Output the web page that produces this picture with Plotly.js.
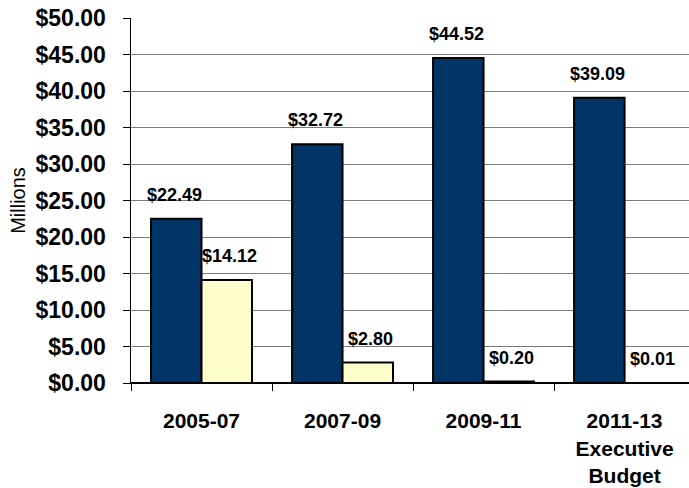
<!DOCTYPE html>
<html>
<head>
<meta charset="utf-8">
<script src="https://cdn.plot.ly/plotly-3.0.1.min.js"></script>
<style>html,body{margin:0;padding:0;background:#fff;}#chart{width:689px;height:488px;}</style>
</head>
<body>
<div id="chart"></div>
<script>
const categories = ["2005-07", "2007-09", "2009-11", "2011-13<br>Executive<br>Budget"];
const seriesA = [22.49, 32.72, 44.52, 39.09];
const seriesB = [14.12, 2.80, 0.20, 0.01];
const yTickVals = [0, 5, 10, 15, 20, 25, 30, 35, 40, 45, 50];
const yTickText = yTickVals.map(v => "$" + v.toFixed(2));

const fmt = v => "$" + v.toFixed(2);
const FONT = "Liberation Sans, Arial, sans-serif";

const traces = [
  {type: "bar", x: categories, y: seriesA, name: "A",
   marker: {color: "#003366", line: {color: "#000000", width: 2}}, hoverinfo: "none"},
  {type: "bar", x: categories, y: seriesB, name: "B",
   marker: {color: "#FFFFCC", line: {color: "#000000", width: 2}}, hoverinfo: "none"}
];

const annotations = [];
categories.forEach((c, i) => {
  annotations.push({x: c, y: seriesA[i], xref: "x", yref: "y", text: "<b>" + fmt(seriesA[i]) + "</b>",
    showarrow: false, yanchor: "bottom", xshift: -27, yshift: 12,
    font: {family: FONT, size: 18, color: "#000"}});
  annotations.push({x: c, y: seriesB[i], xref: "x", yref: "y", text: "<b>" + fmt(seriesB[i]) + "</b>",
    showarrow: false, yanchor: "bottom", xshift: 28, yshift: 12,
    font: {family: FONT, size: 18, color: "#000"}});
});

const layout = {
  width: 689, height: 488,
  margin: {l: 131, r: 0, t: 18, b: 105, pad: 0},
  paper_bgcolor: "#fff", plot_bgcolor: "#fff",
  showlegend: false,
  barmode: "group", bargap: 0.284, bargroupgap: 0,
  font: {family: FONT, color: "#000"},
  xaxis: {
    type: "category", range: [-0.5, 3.457],
    showline: true, linecolor: "#000", linewidth: 1,
    ticks: "outside", tickson: "boundaries", ticklen: 7, tickcolor: "#000",
    showgrid: false, zeroline: false,
    tickfont: {size: 21, family: FONT, weight: "bold", color: "#000"},
    ticklabelstandoff: 19
  },
  yaxis: {
    range: [0, 50], tickmode: "array", tickvals: yTickVals, ticktext: yTickText,
    showline: true, linecolor: "#000", linewidth: 1.5,
    ticks: "outside", ticklen: 7, tickcolor: "#000",
    showgrid: true, gridcolor: "#7a7a7a", gridwidth: 1,
    zeroline: true, zerolinecolor: "#000", zerolinewidth: 1.5,
    tickfont: {size: 23, family: FONT, weight: "bold", color: "#000"},
    ticklabelstandoff: 12,
    title: {text: "Millions", font: {size: 20, family: FONT, color: "#000"}, standoff: 4}
  },
  annotations: annotations
};

Plotly.newPlot("chart", traces, layout, {staticPlot: true, displayModeBar: false});
</script>
</body>
</html>
